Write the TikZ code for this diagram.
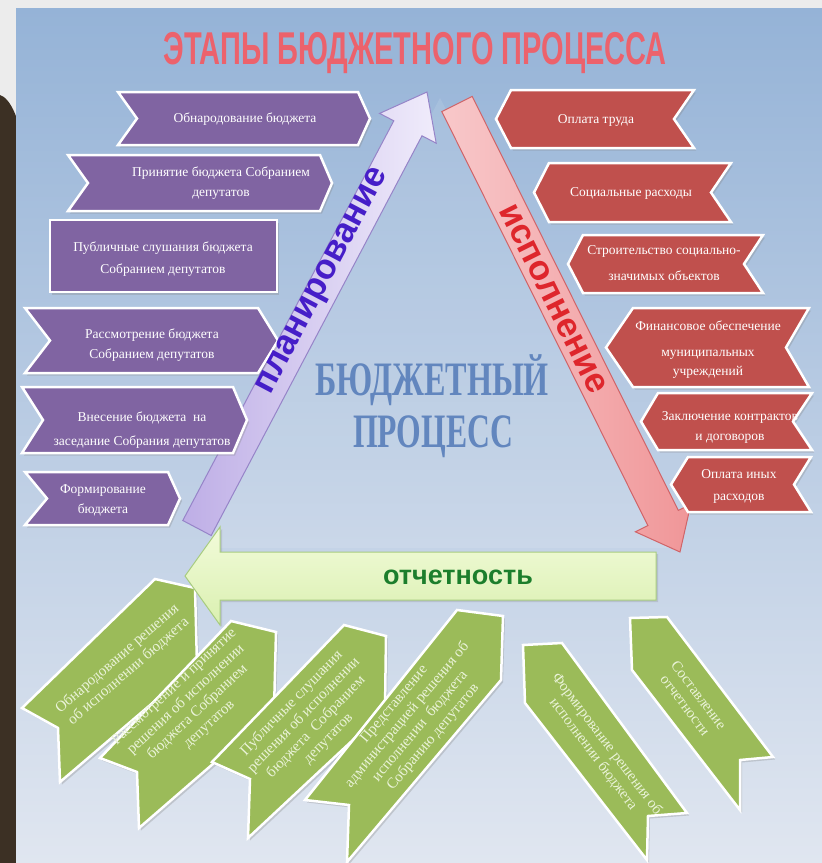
\documentclass[tikz,border=0pt]{standalone}
\usepackage{fontspec}
\setmainfont{Liberation Serif}
\newfontfamily\sansfont{Liberation Sans}
\usetikzlibrary{shadows}

\definecolor{slidetop}{RGB}{149,179,215}
\definecolor{slidebot}{RGB}{224,230,240}
\definecolor{pfill}{RGB}{128,100,162}
\definecolor{rfill}{RGB}{192,80,77}
\definecolor{gfill}{RGB}{155,187,89}
\definecolor{titlered}{RGB}{236,98,108}
\definecolor{centerblue}{RGB}{98,134,190}
\definecolor{planviolet}{RGB}{70,30,200}
\definecolor{ispred}{RGB}{222,38,44}
\definecolor{otchgreen}{RGB}{28,126,44}
\definecolor{gtext}{RGB}{234,243,216}
\definecolor{marble}{RGB}{236,236,236}
\definecolor{wood}{RGB}{60,48,36}
\definecolor{parrowA}{RGB}{190,174,230}
\definecolor{parrowB}{RGB}{240,236,251}
\definecolor{parrowD}{RGB}{150,132,200}
\definecolor{rarrowA}{RGB}{248,200,202}
\definecolor{rarrowB}{RGB}{240,150,152}
\definecolor{rarrowD}{RGB}{208,100,104}
\definecolor{garrowA}{RGB}{242,251,218}
\definecolor{garrowB}{RGB}{218,240,176}
\definecolor{garrowD}{RGB}{168,204,128}

% point-right chevron: style, L, T, R, B, notch, point
\newcommand{\pchev}[7]{%
  \draw[#1] (#2,#3) -- ({#4-#7},#3) -- (#4,{(#3+#5)/2}) -- ({#4-#7},#5) -- (#2,#5) -- ({#2+#6},{(#3+#5)/2}) -- cycle;}
% point-left chevron: style, L, T, R, B, notch, point
\newcommand{\rchev}[7]{%
  \draw[#1] ({#2+#7},#3) -- (#4,#3) -- ({#4-#6},{(#3+#5)/2}) -- (#4,#5) -- ({#2+#7},#5) -- (#2,{(#3+#5)/2}) -- cycle;}

\begin{document}
\begin{tikzpicture}[x=1pt,y=-1pt,
  shbox/.style={draw=white, line width=2.5pt, line join=miter,
    drop shadow={opacity=0.3, shadow xshift=2pt, shadow yshift=-2.5pt}},
  pbox/.style={shbox, fill=pfill},
  rbox/.style={shbox, fill=rfill},
  gbox/.style={shbox, fill=gfill},
  btext/.style={text=white, align=center, inner sep=0pt, font=\fontsize{13.5}{20}\selectfont},
  gtxt/.style={text=gtext, align=center, inner sep=0pt, font=\fontsize{15}{17}\selectfont},
  arrlabel/.style={inner sep=0pt, font=\sansfont\bfseries\fontsize{35}{35}\selectfont}]

\useasboundingbox (0,0) rectangle (822,863);

% background
\fill[marble] (0,0) rectangle (822,863);
\fill[wood] (0,95) .. controls (10,98) and (22,120) .. (24,160) -- (24,863) -- (0,863) -- cycle;
\shade[top color=slidetop, bottom color=slidebot] (16,8) rectangle (822,863);
\fill[white, opacity=0.1] (440,98) -- (205,548) -- (675,548) -- cycle;

% big arrows
\draw[left color=parrowA, right color=parrowB, draw=parrowD, line width=1pt, line join=miter]
  (182.8,520.5) -- (393.8,120.8) -- (379.6,113.4) -- (427,92) -- (436.2,143.2) -- (422.0,135.8) -- (211.2,535.5) -- cycle;
\draw[left color=rarrowA, right color=rarrowB, draw=rarrowD, line width=1pt, line join=miter]
  (441.8,111.6) -- (472.2,96.4) -- (678.3,510.4) -- (690.8,504.2) -- (680,552) -- (635.4,531.8) -- (647.9,525.6) -- cycle;

% purple steps
\pchev{pbox}{118}{92}{370}{145}{19}{12}
\node[btext] (p1) at (245,119) {Обнародование бюджета};
\pchev{pbox}{68}{155}{332}{211}{20}{12}
\node[btext] (p2) at (221,183) {Принятие бюджета Собранием\\депутатов};
\draw[pbox] (50,220) rectangle (277,292);
\node[btext, font=\fontsize{13.5}{22}\selectfont] (p3) at (163,259) {Публичные слушания бюджета\\Собранием депутатов};
\pchev{pbox}{25}{308}{278}{373}{25}{20}
\node[btext] (p4) at (152,345) {Рассмотрение бюджета\\Собранием депутатов};
\pchev{pbox}{22}{387}{247}{453}{21}{14}
\node[btext, font=\fontsize{13.5}{24}\selectfont] (p5) at (142,430) {Внесение бюджета\ \ на\\заседание Собрания депутатов};
\pchev{pbox}{25}{472}{180}{525}{22}{12}
\node[btext] (p6) at (103,500) {Формирование\\бюджета};

% red steps
\rchev{rbox}{496}{90}{694}{148}{20}{15}
\node[btext] (r1) at (596,120) {Оплата труда};
\rchev{rbox}{534}{163}{731}{222}{20}{15}
\node[btext] (r2) at (631,193) {Социальные расходы};
\rchev{rbox}{568}{235}{763}{293}{19}{15}
\node[btext, font=\fontsize{13.5}{26}\selectfont] (r3) at (664,263) {Строительство социально-\\значимых объектов};
\rchev{rbox}{606}{308}{809}{387}{23}{27}
\node[btext, font=\fontsize{13.5}{19}\selectfont] (r4) at (708,350) {Финансовое обеспечение\\[7pt]муниципальных\\учреждений};
\rchev{rbox}{641}{393}{812}{450}{19}{17}
\node[btext] (r5) at (730,427) {Заключение контрактов\\и договоров};
\rchev{rbox}{671}{457}{811}{512}{17}{17}
\node[btext, font=\fontsize{13.5}{22}\selectfont] (r6) at (739,486) {Оплата иных\\расходов};

% green ribbons
\draw[gbox] (22,708) -- (155,579) -- (195,588) -- (197,665) -- (60,782) -- (58,728) -- cycle;
\node[gtxt, rotate=41] (g1) at (123,665) {Обнародование решения\\об исполнении бюджета};
\draw[gbox] (100,758) -- (231,621) -- (276,632) -- (274,711) -- (139,828) -- (137,772) -- cycle;
\node[gtxt, rotate=43] (g2) at (192,706) {Рассмотрение и принятие\\решения об исполнении\\бюджета Собранием\\депутатов};
\draw[gbox] (212,762) -- (344,625) -- (386,636) -- (385,710) -- (248,838) -- (250,779) -- cycle;
\node[gtxt, rotate=46] (g3) at (310,721) {Публичные слушания\\решения об исполнении\\бюджета\ \ Собранием\\депутатов};
\draw[gbox] (305,800) -- (457,610) -- (503,616) -- (501,680) -- (347,862) -- (349,805) -- cycle;
\node[gtxt, rotate=50] (g4) at (414,721) {Представление\\администрацией решения об\\исполнении\ \ бюджета\\Собранию депутатов};
\draw[gbox] (523,645) -- (562,643) -- (687,813) -- (648,816) -- (647,860) -- (525,703) -- cycle;
\node[gtxt, rotate=-53] (g5) at (600,749) {Формирование решения об\\исполнении бюджета};
\draw[gbox] (630,618) -- (667,617) -- (773,757) -- (740,760) -- (740,810) -- (632,670) -- cycle;
\node[gtxt, rotate=-53] (g6) at (692,700) {Составление\\отчетности};

% green arrow
\draw[top color=garrowA, bottom color=garrowB, draw=garrowD, line width=1pt, line join=miter,
  drop shadow={opacity=0.25, shadow xshift=2pt, shadow yshift=-2pt}]
  (185,576) -- (220,527) -- (220,552) -- (656,552) -- (656,600) -- (220,600) -- (220,625) -- cycle;

% labels
\node[arrlabel, text=planviolet, rotate=62.2] (plan) at (324,282) {планирование};
\node[arrlabel, text=ispred, rotate=-63.5] (isp) at (553,299) {исполнение};
\node[inner sep=0pt, text=otchgreen, font=\sansfont\bfseries\fontsize{27}{27}\selectfont] (otch) at (458,577) {отчетность};

\node[anchor=base, inner sep=0pt, text=titlered] (title) at (415,64)
  {\scalebox{0.63}[1]{\sansfont\bfseries\fontsize{46}{46}\selectfont ЭТАПЫ БЮДЖЕТНОГО ПРОЦЕССА}};
\node[anchor=base, inner sep=0pt, text=centerblue] (bp1) at (432,395)
  {\scalebox{0.67}[1]{\bfseries\fontsize{48}{48}\selectfont БЮДЖЕТНЫЙ}};
\node[anchor=base, inner sep=0pt, text=centerblue] (bp2) at (433,447)
  {\scalebox{0.66}[1]{\bfseries\fontsize{48}{48}\selectfont ПРОЦЕСС}};
\end{tikzpicture}
\end{document}
